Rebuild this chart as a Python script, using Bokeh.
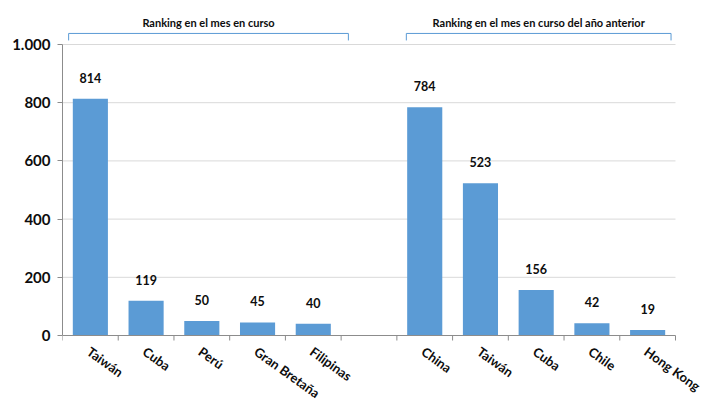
from bokeh.plotting import figure
from bokeh.models import ColumnDataSource, FixedTicker, Range1d
from bokeh.core.properties import value
from bokeh.embed import file_html
from bokeh.resources import INLINE

# Data
categories_current = ["Taiwán", "Cuba", "Perú", "Gran Bretaña", "Filipinas"]
values_current = [814, 119, 50, 45, 40]
categories_previous = ["China", "Taiwán", "Cuba", "Chile", "Hong Kong"]
values_previous = [784, 523, 156, 42, 19]
group_titles = ["Ranking en el mes en curso", "Ranking en el mes en curso del año anterior"]
y_ticks = [0, 200, 400, 600, 800, 1000]
y_tick_labels = ["0", "200", "400", "600", "800", "1.000"]

FONT = "Lato"
BLUE = "#5B9BD5"
AXIS = "#8C8C8C"
GRID = "#D9D9D9"
TEXT = "#0d0d0d"

n_cur = len(categories_current)
n_prev = len(categories_previous)
gap = 1
x_cur = [i + 0.5 for i in range(n_cur)]
x_prev = [n_cur + gap + i + 0.5 for i in range(n_prev)]
n_total = n_cur + gap + n_prev

xs = x_cur + x_prev
vals = values_current + values_previous
labels = categories_current + categories_previous
src = ColumnDataSource(dict(x=xs, top=vals, txt=[str(v) for v in vals]))

# scales: 291 px per 1000 units vertically, zero line 68 px above the bottom;
# 613 px for the category span, with room on the right for the last rotated label
W, H = 702, 403
LEFT = 62
k = 291 / 1000
y_lo = -68 / k
y_hi = y_lo + H / k
kx = 613 / n_total
x_hi = (W - LEFT) / kx
p = figure(width=W, height=H, output_backend="svg", toolbar_location=None,
           x_range=Range1d(0, x_hi), y_range=Range1d(y_lo, y_hi),
           min_border_left=LEFT, min_border_right=0, min_border_top=0, min_border_bottom=0)
p.outline_line_color = None
p.background_fill_color = "white"

# y axis
p.yaxis.ticker = FixedTicker(ticks=y_ticks)
p.yaxis.major_label_overrides = {t: l for t, l in zip(y_ticks, y_tick_labels)}
p.yaxis.bounds = (0, 1000)
p.yaxis.axis_line_color = AXIS
p.yaxis.major_tick_line_color = AXIS
p.yaxis.major_tick_out = 5
p.yaxis.major_tick_in = 0
p.yaxis.minor_tick_line_color = None
p.yaxis.major_label_text_font = FONT
p.yaxis.major_label_text_font_style = "bold"
p.yaxis.major_label_text_font_size = "15px"
p.yaxis.major_label_text_color = TEXT
p.yaxis.major_label_standoff = 7
p.ygrid.grid_line_color = None
p.xgrid.grid_line_color = None
p.xaxis.visible = False

# horizontal gridlines over the category span
grid_y = y_ticks[1:]
p.segment(x0=[0] * len(grid_y), y0=grid_y, x1=[n_total] * len(grid_y), y1=grid_y,
          line_color=GRID, line_width=1)

# bars and value labels
p.vbar(x="x", top="top", width=0.63, source=src, color=BLUE, line_color=None)
p.text(x="x", y="top", text="txt", source=src, text_align="center", text_baseline="bottom",
       y_offset=-16, text_font=value(FONT), text_font_style="bold", text_font_size="12.5px",
       text_color=TEXT)

# category axis: line, boundary ticks, rotated labels
bounds = list(range(n_total + 1))
tick_len = 5 / k
p.line(x=[0, n_total], y=[0, 0], line_color=AXIS, line_width=1)
p.segment(x0=bounds, y0=[0] * len(bounds), x1=bounds, y1=[-tick_len] * len(bounds),
          line_color=AXIS, line_width=1)
p.text(x=xs, y=[0] * len(xs), text=labels, angle=-0.62, text_align="left", text_baseline="top",
       x_offset=3, y_offset=8, text_font=value(FONT), text_font_style="bold",
       text_font_size="13px", text_color=TEXT)

# group brackets and titles
bracket_y = 1038
bracket_tick = 1014
title_y = 1076
groups = [(0.11, 5.13, group_titles[0]), (6.17, 10.92, group_titles[1])]
for x0, x1, t in groups:
    p.line([x0, x0, x1, x1], [bracket_tick, bracket_y, bracket_y, bracket_tick], line_color=BLUE, line_width=1)
    p.text(x=[(x0 + x1) / 2], y=[title_y], text=[t], text_align="center", text_baseline="middle",
           text_font=value(FONT), text_font_style="bold", text_font_size="11px", text_color=TEXT)

open("out.html", "w").write(file_html(p, INLINE))
